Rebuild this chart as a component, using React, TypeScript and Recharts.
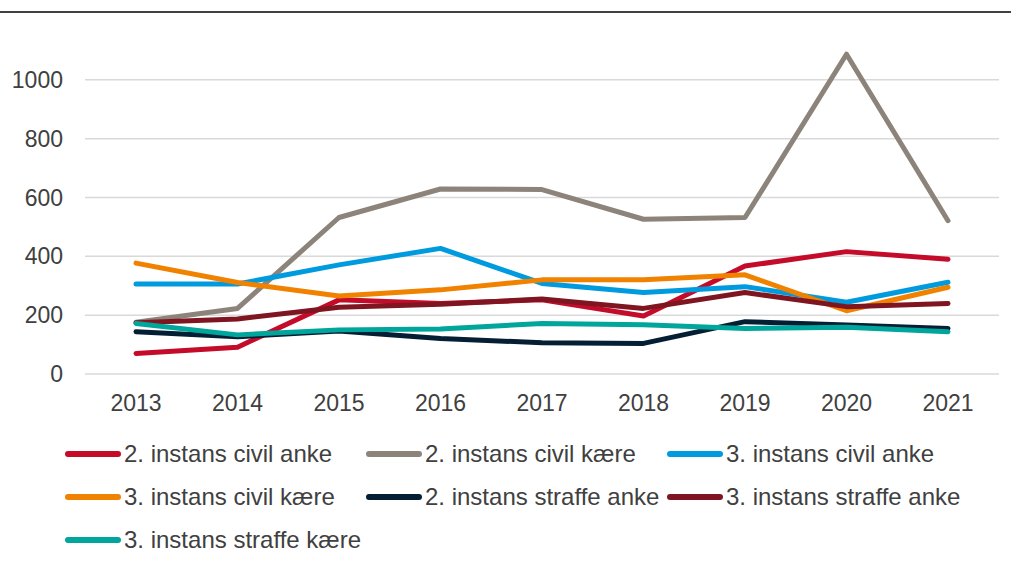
import { LineChart, Line, XAxis, YAxis, CartesianGrid, Legend } from 'recharts';

const years = ['2013', '2014', '2015', '2016', '2017', '2018', '2019', '2020', '2021'];

const civilAnke2 = [70, 91, 252, 240, 252, 197, 367, 416, 390];
const civilKaere2 = [176, 223, 532, 629, 627, 526, 532, 1087, 521];
const civilAnke3 = [306, 306, 371, 427, 308, 277, 297, 244, 312];
const civilKaere3 = [377, 311, 265, 286, 320, 320, 337, 215, 295];
const straffeAnke2 = [144, 127, 146, 121, 106, 104, 178, 167, 155];
const straffeAnke3 = [174, 187, 227, 237, 255, 223, 277, 229, 240];
const straffeKaere3 = [172, 133, 150, 153, 172, 167, 155, 159, 144];

const yTicks = [0, 200, 400, 600, 800, 1000];

const series = [
  { key: 'a', name: '2. instans civil anke', color: '#C40B2A', values: civilAnke2 },
  { key: 'b', name: '2. instans civil kære', color: '#8C847A', values: civilKaere2 },
  { key: 'c', name: '3. instans civil anke', color: '#009BDE', values: civilAnke3 },
  { key: 'd', name: '3. instans civil kære', color: '#F08200', values: civilKaere3 },
  { key: 'e', name: '2. instans straffe anke', color: '#041E33', values: straffeAnke2 },
  { key: 'f', name: '3. instans straffe anke', color: '#7E1520', values: straffeAnke3 },
  { key: 'g', name: '3. instans straffe kære', color: '#00A59B', values: straffeKaere3 },
];

const data = years.map((year, i) => {
  const row: Record<string, string | number> = { year };
  for (const s of series) row[s.key] = s.values[i];
  return row;
});

const font = '"Liberation Sans", Arial, sans-serif';

function LegendBox() {
  return (
    <div style={{ display: 'flex', flexWrap: 'wrap', paddingLeft: 65, width: 903 }}>
      {series.map(s => (
        <div key={s.key} style={{ display: 'flex', alignItems: 'center', width: 301, height: 43.3 }}>
          <div style={{ width: 56, height: 6, borderRadius: 3, background: s.color }} />
          <span style={{ marginLeft: 3, fontSize: 24, color: '#404040', fontFamily: font, whiteSpace: 'nowrap' }}>
            {s.name}
          </span>
        </div>
      ))}
    </div>
  );
}

export default function App() {
  return (
    <div style={{ position: 'absolute', left: 0, top: 0, width: 1011, height: 565, background: '#fff' }}>
      <div style={{ position: 'absolute', left: 0, top: 11, width: 1011, height: 2, background: '#404040' }} />
      <LineChart
        width={1011}
        height={565}
        data={data}
        margin={{ top: 21, right: 12, bottom: 161, left: 0 }}
      >
        <CartesianGrid vertical={false} syncWithTicks stroke="#D9D9D9" strokeWidth={1.5} />
        <XAxis
          dataKey="year"
          axisLine={false}
          tickLine={false}
          tickMargin={15}
          height={30}
          interval={0}
          padding={{ left: 51, right: 51 }}
          tick={{ fontSize: 23, fill: '#404040', fontFamily: font }}
        />
        <YAxis
          domain={[0, 1200]}
          ticks={yTicks}
          width={85}
          axisLine={false}
          tickLine={false}
          tickMargin={16}
          tick={{ fontSize: 23, fill: '#404040', fontFamily: font }}
        />
        <Legend
          verticalAlign="middle"
          align="center"
          content={() => <LegendBox />}
          wrapperStyle={{ position: 'absolute', left: 0, top: 432, width: 1011 }}
        />
        {series.map(s => (
          <Line
            key={s.key}
            type="linear"
            dataKey={s.key}
            name={s.name}
            stroke={s.color}
            strokeWidth={5}
            strokeLinecap="round"
            strokeLinejoin="round"
            dot={false}
            activeDot={false}
            isAnimationActive={false}
          />
        ))}
      </LineChart>
    </div>
  );
}
